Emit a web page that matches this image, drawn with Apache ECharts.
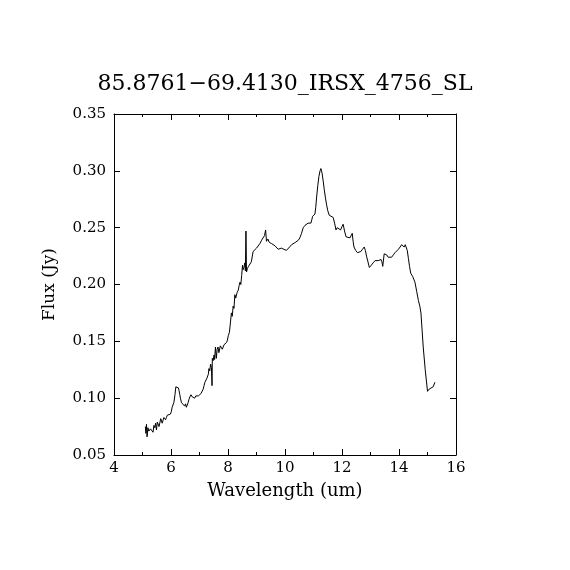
<!DOCTYPE html>
<html>
<head>
<meta charset="utf-8">
<script src="https://cdn.jsdelivr.net/npm/echarts@6/dist/echarts.min.js"></script>
<style>html,body{margin:0;padding:0;background:#fff}#c{width:570px;height:570px}</style>
</head>
<body>
<div id="c"></div>
<script>
var titleText = "85.8761\u221269.4130_IRSX_4756_SL";
var xName = "Wavelength (um)";
var yName = "Flux (Jy)";
var xTicks = [4, 6, 8, 10, 12, 14, 16];
var yTicks = [0.05, 0.10, 0.15, 0.20, 0.25, 0.30, 0.35];

var wavelength = [
5.10,5.12,5.14,5.16,5.19,5.22,5.25,5.28,5.31,5.34,5.37,5.40,5.43,5.46,5.49,5.52,5.55,5.58,5.61,5.64,
5.66,5.69,5.72,5.75,5.78,5.81,5.84,5.87,5.90,5.94,5.98,6.01,6.04,6.07,6.10,6.14,6.17,6.20,6.23,6.26,
6.28,6.31,6.33,6.37,6.40,6.44,6.48,6.51,6.54,6.57,6.60,6.63,6.66,6.70,6.75,6.79,6.83,6.87,6.92,6.96,
7.01,7.05,7.10,7.13,7.16,7.19,7.22,7.25,7.28,7.31,7.33,7.36,7.39,7.42,7.44,7.45,7.48,7.51,7.53,7.56,
7.59,7.62,7.65,7.68,7.70,7.73,7.77,7.80,7.83,7.86,7.89,7.92,7.95,7.98,8.01,8.05,8.09,8.12,8.15,8.18,
8.21,8.24,8.27,8.32,8.36,8.39,8.42,8.45,8.48,8.51,8.53,8.56,8.59,8.61,8.63,8.65,8.68,8.72,8.77,8.82,
8.88,8.94,9.00,9.06,9.12,9.18,9.23,9.28,9.32,9.35,9.40,9.45,9.53,9.60,9.65,9.70,9.76,9.82,9.87,9.91,
9.96,10.01,10.05,10.10,10.16,10.23,10.30,10.36,10.41,10.47,10.52,10.58,10.64,10.70,10.76,10.81,10.86,10.91,10.94,10.97,
11.01,11.05,11.08,11.11,11.15,11.19,11.23,11.26,11.30,11.34,11.38,11.42,11.46,11.50,11.55,11.62,11.69,11.74,11.79,11.83,
11.86,11.90,11.95,12.00,12.04,12.09,12.14,12.20,12.28,12.33,12.36,12.39,12.42,12.48,12.54,12.60,12.66,12.72,12.78,12.82,
12.86,12.91,12.96,13.03,13.09,13.16,13.22,13.27,13.32,13.37,13.40,13.43,13.48,13.52,13.57,13.62,13.68,13.74,13.80,13.86,
13.92,13.98,14.04,14.09,14.13,14.18,14.22,14.25,14.29,14.33,14.37,14.41,14.48,14.56,14.62,14.68,14.73,14.77,14.81,14.85,
14.92,15.00,15.06,15.12,15.20,15.26
];
var flux = [
0.075,0.069,0.077,0.066,0.074,0.071,0.070,0.073,0.072,0.074,0.070,0.076,0.074,0.078,0.072,0.079,0.078,0.075,0.076,0.082,
0.081,0.078,0.078,0.083,0.083,0.081,0.083,0.085,0.084,0.085,0.086,0.088,0.092,0.094,0.096,0.103,0.110,0.111,0.110,0.109,
0.107,0.103,0.100,0.096,0.095,0.097,0.093,0.095,0.092,0.094,0.096,0.099,0.101,0.103,0.101,0.102,0.100,0.102,0.101,0.102,
0.103,0.104,0.104,0.108,0.111,0.114,0.114,0.117,0.116,0.121,0.126,0.124,0.130,0.127,0.111,0.135,0.133,0.138,0.134,0.145,
0.135,0.143,0.145,0.140,0.141,0.146,0.147,0.143,0.142,0.147,0.148,0.146,0.149,0.151,0.155,0.158,0.157,0.175,0.172,0.181,
0.179,0.191,0.188,0.193,0.195,0.199,0.202,0.200,0.208,0.217,0.213,0.215,0.219,0.212,0.247,0.211,0.214,0.216,0.217,0.220,
0.229,0.230,0.232,0.233,0.236,0.239,0.240,0.243,0.248,0.238,0.240,0.237,0.236,0.236,0.234,0.233,0.231,0.230,0.232,0.232,
0.231,0.230,0.230,0.231,0.233,0.235,0.236,0.237,0.238,0.239,0.241,0.245,0.250,0.252,0.253,0.254,0.255,0.254,0.257,0.260,
0.261,0.262,0.268,0.277,0.287,0.295,0.300,0.302,0.298,0.291,0.283,0.276,0.270,0.265,0.261,0.260,0.259,0.254,0.248,0.250,
0.251,0.249,0.248,0.251,0.253,0.247,0.242,0.241,0.241,0.242,0.245,0.238,0.233,0.230,0.228,0.229,0.229,0.231,0.233,0.230,
0.225,0.220,0.215,0.217,0.219,0.221,0.221,0.221,0.222,0.222,0.220,0.216,0.227,0.227,0.226,0.224,0.223,0.224,0.226,0.228,
0.229,0.231,0.233,0.235,0.234,0.233,0.235,0.236,0.230,0.223,0.216,0.210,0.207,0.202,0.194,0.186,0.181,0.175,0.160,0.145,
0.125,0.106,0.108,0.109,0.110,0.114
];

var pts = wavelength.map(function (w, i) { return [w, flux[i]]; });
var font = "DejaVu Serif";
var black = "#000";

function xAx(pos, showLabel) {
  return {
    type: "value", position: pos, min: xTicks[0], max: xTicks[xTicks.length - 1], interval: 2,
    name: showLabel ? xName : "", nameLocation: "middle", nameGap: 27,
    nameTextStyle: { fontFamily: font, fontSize: 18, color: black },
    axisLine: { show: true, onZero: false, lineStyle: { color: black, width: 1 } },
    axisTick: { show: true, inside: true, length: 6, lineStyle: { color: black } },
    minorTick: { show: true, splitNumber: 2, length: 3, lineStyle: { color: black } },
    axisLabel: { show: showLabel, margin: 6, fontFamily: font, fontSize: 15, color: black },
    splitLine: { show: false }
  };
}
function yAx(pos, showLabel) {
  return {
    type: "value", position: pos, min: yTicks[0], max: yTicks[yTicks.length - 1], interval: 0.05,
    name: showLabel ? yName : "", nameLocation: "middle", nameGap: 56,
    nameTextStyle: { fontFamily: font, fontSize: 17, color: black },
    axisLine: { show: true, onZero: false, lineStyle: { color: black, width: 1 } },
    axisTick: { show: true, inside: true, length: 6, lineStyle: { color: black } },
    axisLabel: { show: showLabel, margin: 8, fontFamily: font, fontSize: 15, color: black,
      formatter: function (v) { return v.toFixed(2); } },
    splitLine: { show: false }
  };
}

var chart = echarts.init(document.getElementById("c"), null, { renderer: "canvas" });
chart.setOption({
  animation: false,
  backgroundColor: "#fff",
  title: { text: titleText, left: "center", top: 68,
    textStyle: { fontFamily: font, fontSize: 22, fontWeight: "normal", color: black } },
  grid: { left: 114, right: 114, top: 114, bottom: 115, containLabel: false },
  xAxis: [xAx("bottom", true), xAx("top", false)],
  yAxis: [yAx("left", true), yAx("right", false)],
  series: [{
    type: "line", xAxisIndex: 0, yAxisIndex: 0, data: pts, showSymbol: false, symbol: "none",
    lineStyle: { color: black, width: 1 }, smooth: false
  }]
});
</script>
</body>
</html>
